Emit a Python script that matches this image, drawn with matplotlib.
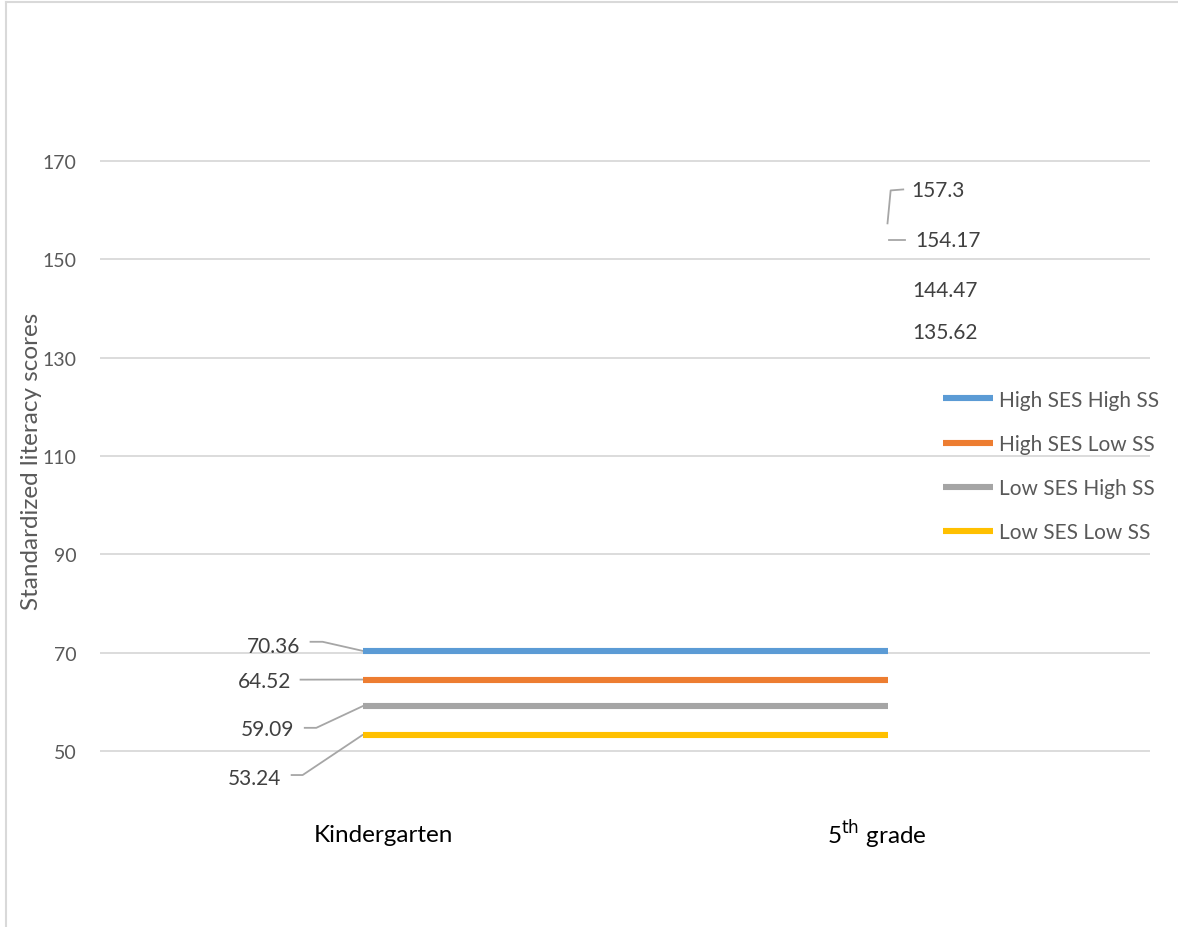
import matplotlib.pyplot as plt
from matplotlib.lines import Line2D

plt.rcParams['font.family'] = ['Lato', 'DejaVu Sans']

grades = ['Kindergarten', '5$^{\\mathrm{th}}$ grade']
groups = ['High SES High SS', 'High SES Low SS', 'Low SES High SS', 'Low SES Low SS']
kinder = [70.36, 64.52, 59.09, 53.24]
fifth = [157.3, 154.17, 144.47, 135.62]
colors = ['#5B9BD5', '#ED7D31', '#A5A5A5', '#FFC000']

W, H = 1178, 928
fig = plt.figure(figsize=(W / 100, H / 100), dpi=100)
ax = fig.add_axes([100 / W, 0.1272, 1050 / W, 0.7513])

# series as drawn in the source chart: flat at the kindergarten level
for k, c, g in zip(kinder, colors, groups):
    ax.plot([0, 1], [k, k], color=c, lw=4.4, solid_capstyle='butt', label=g, zorder=3)

ax.set_xlim(-0.5, 1.5)
ax.set_ylim(38.2, 180)
ax.set_yticks(range(50, 171, 20))
ax.grid(axis='y', color='#D9D9D9', lw=1.3)
ax.set_axisbelow(True)
for s in ax.spines.values():
    s.set_visible(False)
ax.tick_params(axis='y', length=0, pad=17, labelsize=14, labelcolor='#595959')
ax.set_xticks([])
ax.set_ylabel('Standardized literacy scores', fontsize=17.5, color='#595959')
ax.yaxis.set_label_coords(-0.055, 0.5)

# category labels
ax.text(0.04, 33.1, grades[0], ha='center', va='center', fontsize=17.5, color='black')
ax.text(0.98, 33.1, grades[1], ha='center', va='center', fontsize=17.5, color='black')

# kindergarten data labels with leader lines
lab = dict(fontsize=15, color='#404040', va='center', ha='right')
lead = dict(color='#A6A6A6', lw=1.3)
k_text = [(-0.118, 71.4), (-0.135, 64.25), (-0.130, 54.5), (-0.154, 44.5)]
k_lead = [([-0.099, -0.076, 0], [72.2, 72.2, kinder[0]]),
          ([-0.118, 0], [64.5, kinder[1]]),
          ([-0.110, -0.088, 0], [54.7, 54.7, kinder[2]]),
          ([-0.135, -0.114, 0], [45.1, 45.1, kinder[3]])]
for k, (tx, ty), (lx, ly) in zip(kinder, k_text, k_lead):
    ax.text(tx, ty, f'{k:g}', **lab)
    ax.plot(lx, ly, **lead, zorder=2)

# fifth grade data labels
f_text = [(1.046, 164.0), (1.053, 154.0), (1.047, 143.8), (1.047, 135.2)]
for v, (tx, ty) in zip(fifth, f_text):
    ax.text(tx, ty, f'{v:g}', fontsize=15, color='#404040', va='center', ha='left')
ax.plot([1.0, 1.006, 1.03], [157.3, 164.0, 164.2], **lead)
ax.plot([1.002, 1.034], [154.0, 154.0], **lead)

leg = ax.legend(loc='center left', bbox_to_anchor=(924 / W, 1 - 467 / H),
                bbox_transform=fig.transFigure, frameon=False, fontsize=15,
                handlelength=2.4, handletextpad=0.3, labelspacing=1.16,
                labelcolor='#595959')

# outer chart border
fig.add_artist(Line2D([6 / W, 6 / W], [0, 1 - 3 / H], color='#D9D9D9', lw=1.5))
fig.add_artist(Line2D([6 / W, 1], [1 - 3 / H, 1 - 3 / H], color='#D9D9D9', lw=1.5))

fig.savefig('out.png', dpi=100)
